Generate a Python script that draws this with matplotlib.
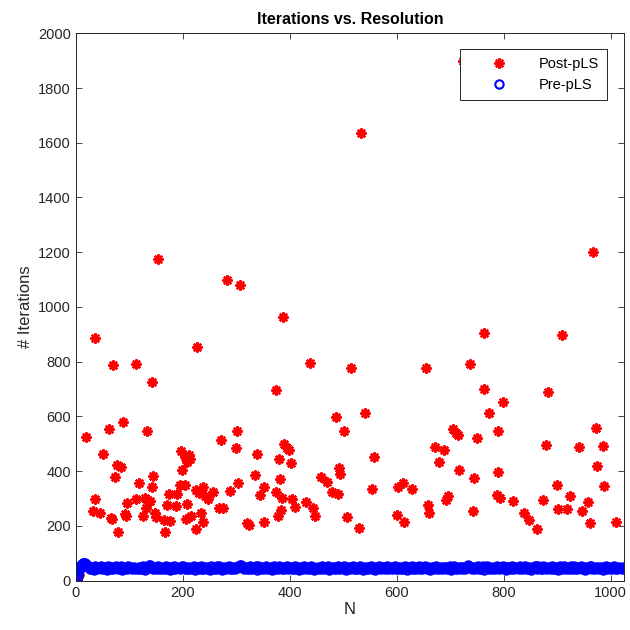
import matplotlib
matplotlib.use("Agg")
import matplotlib.pyplot as plt

plt.rcParams['font.family'] = ['Liberation Sans', 'DejaVu Sans']

# Post-pLS iterations (visible points)
post_n = [2, 4, 6, 19, 31, 36, 36, 44, 51, 62, 66, 68, 69, 73, 76, 78, 85, 88, 92, 94,
          96, 112, 113, 118, 125, 129, 131, 133, 135, 138, 142, 143, 145, 148, 150, 153,
          165, 166, 170, 174, 176, 187, 189, 195, 197, 198, 204, 204, 206, 207, 208, 212,
          214, 216, 224, 225, 227, 231, 234, 237, 237, 241, 247, 256, 268, 271, 275, 283,
          288, 299, 302, 303, 307, 319, 324, 334, 338, 345, 352, 352, 374, 375, 378, 380,
          382, 383, 385, 388, 390, 395, 399, 402, 405, 410, 431, 438, 444, 448, 458, 470,
          478, 486, 491, 492, 494, 501, 507, 514, 530, 534, 540, 553, 558, 600, 603, 612,
          614, 628, 655, 658, 660, 671, 679, 688, 693, 696, 706, 711, 715, 717, 723, 737,
          742, 744, 750, 763, 764, 772, 787, 789, 790, 793, 799, 817, 838, 848, 862, 874,
          879, 883, 899, 902, 910, 919, 924, 941, 947, 958, 961, 967, 972, 974, 986, 988,
          1010]
post_iter = [3, 12, 20, 526, 256, 298, 888, 246, 463, 554, 230, 224, 788, 378, 423, 177,
             417, 581, 244, 236, 283, 790, 297, 356, 236, 301, 264, 547, 289, 292, 727,
             344, 384, 248, 232, 1174, 222, 179, 277, 317, 219, 274, 317, 348, 475, 404,
             453, 350, 224, 279, 435, 459, 445, 236, 188, 331, 853, 320, 246, 216, 343,
             308, 297, 325, 267, 514, 265, 1100, 328, 484, 547, 358, 1080, 212, 204, 386,
             463, 313, 341, 216, 697, 325, 236, 443, 370, 258, 301, 965, 499, 484, 478,
             431, 297, 268, 289, 797, 265, 236, 380, 362, 325, 597, 318, 411, 390, 548,
             232, 776, 194, 1637, 614, 334, 453, 240, 341, 358, 213, 334, 776, 277, 246,
             490, 435, 478, 295, 309, 553, 541, 532, 404, 1900, 792, 255, 374, 522, 906,
             699, 614, 313, 548, 396, 303, 654, 291, 246, 222, 189, 295, 496, 688, 350,
             261, 898, 261, 311, 490, 255, 289, 212, 1202, 557, 419, 492, 347, 213]

# Pre-pLS iterations
pre_n = list(range(1, 17)) + list(range(18, 1025, 2))
pre_iter = [5, 12, 20, 28, 36, 42, 48, 52, 56, 58, 60, 62, 64, 66, 66, 64,
    60, 56, 52, 47, 42, 51, 44, 49, 40, 52, 46, 43, 50, 45, 53, 41, 48, 51, 43, 47, 40, 52, 46, 49,
    44, 50, 41, 47, 53, 45, 42, 49, 46, 52, 40, 48, 44, 51, 47, 42, 53, 45, 49, 41, 47, 50, 43, 48,
    46, 41, 51, 44, 49, 42, 52, 47, 40, 50, 45, 56, 58, 55, 48, 43, 51, 46, 41, 49, 53, 44, 47, 42,
    50, 45, 41, 52, 47, 43, 49, 40, 51, 46, 44, 53, 42, 48, 45, 50, 41, 47, 52, 54, 46, 42, 49, 44,
    41, 51, 46, 43, 49, 52, 40, 47, 45, 50, 42, 48, 53, 44, 41, 49, 46, 51, 43, 47, 40, 52, 45, 48,
    43, 49, 41, 52, 46, 53, 44, 48, 40, 51, 47, 42, 50, 45, 53, 41, 48, 44, 51, 46, 42, 49, 47, 54,
    58, 57, 55, 48, 43, 51, 46, 41, 50, 44, 52, 47, 42, 49, 45, 53, 40, 52, 48, 43, 50, 46, 41, 49,
    45, 52, 42, 48, 44, 51, 40, 47, 53, 43, 49, 46, 41, 52, 45, 48, 42, 50, 44, 47, 53, 41, 49, 46,
    50, 43, 48, 41, 52, 46, 44, 49, 40, 51, 47, 42, 53, 45, 48, 41, 50, 46, 43, 52, 44, 49, 40, 47,
    44, 51, 46, 42, 49, 53, 41, 47, 45, 50, 43, 52, 40, 48, 46, 51, 42, 49, 44, 47, 53, 41, 50, 45,
    48, 42, 52, 45, 40, 49, 47, 43, 51, 46, 53, 41, 48, 44, 50, 42, 47, 52, 45, 40, 49, 46, 43, 51,
    41, 49, 45, 52, 43, 47, 50, 40, 48, 44, 53, 46, 42, 51, 45, 49, 41, 47, 52, 43, 48, 45, 50, 42,
    47, 52, 43, 49, 41, 51, 46, 44, 50, 42, 48, 53, 45, 40, 49, 47, 43, 52, 46, 41, 50, 44, 48, 45,
    52, 44, 49, 41, 47, 53, 45, 42, 50, 46, 40, 48, 51, 43, 49, 45, 52, 41, 47, 44, 50, 46, 42, 51,
    45, 50, 42, 48, 44, 52, 40, 49, 46, 53, 43, 47, 41, 51, 45, 49, 42, 50, 46, 44, 48, 53, 56, 54,
    49, 43, 51, 46, 41, 50, 45, 52, 42, 48, 44, 47, 53, 40, 49, 52, 46, 43, 50, 45, 41, 48, 51, 44,
    47, 53, 45, 41, 50, 46, 52, 43, 48, 40, 51, 44, 49, 46, 42, 53, 47, 41, 50, 45, 48, 43, 52, 46,
    43, 50, 46, 52, 41, 48, 44, 51, 47, 40, 49, 45, 53, 55, 42, 54, 47, 50, 44, 41, 52, 46, 48, 43,
    50, 45, 41, 49, 53, 44, 47, 42, 51, 46, 40, 48, 52, 45, 43, 53, 49, 41, 47, 50, 44, 46, 52, 42,
    46, 52, 43, 48, 41, 50, 45, 53, 42, 49, 47, 40, 51, 44, 48, 46, 52, 53, 43, 47, 41, 50, 45, 49,
    42, 48, 51, 45, 40, 49, 46, 53, 43, 47, 50, 41, 48, 45, 52, 44, 49, 42, 47, 51, 45, 48, 43, 50]

x_ticks = [0, 200, 400, 600, 800, 1000]
y_ticks = [0, 200, 400, 600, 800, 1000, 1200, 1400, 1600, 1800, 2000]

fig = plt.figure(figsize=(6.3, 6.3), dpi=100)
ax = fig.add_axes([0.1206, 0.0783, 0.8698, 0.8689])

ax.plot(post_n, post_iter, linestyle='none', marker=(8, 2, 0), markersize=7.2,
        markeredgewidth=1.7, color='#ff0000', label='Post-pLS')
ax.plot(pre_n[:len(pre_iter)], pre_iter[:len(pre_n)], linestyle='none', marker='o',
        markersize=6, markeredgewidth=1.5, markerfacecolor='none',
        markeredgecolor='#0000ff', label='Pre-pLS')

ax.set_xlim(0, 1025)
ax.set_ylim(0, 2000)
ax.set_xticks(x_ticks)
ax.set_yticks(y_ticks)
dark = '#262626'
ax.tick_params(direction='in', length=4, width=0.6, top=True, right=True,
               labelsize=10.5, colors=dark, labelcolor=dark)
for s in ax.spines.values():
    s.set_color(dark)
    s.set_linewidth(0.7)

ax.set_title('Iterations vs. Resolution', fontsize=11.5, fontweight='bold', pad=7)
ax.set_xlabel('N', fontsize=12, color=dark, labelpad=2)
ax.set_ylabel('# Iterations', fontsize=12, color=dark, labelpad=4)

leg = ax.legend(loc='upper right', bbox_to_anchor=(606.7 / 630, 1 - 49.3 / 630),
                bbox_transform=fig.transFigure, borderaxespad=0, fontsize=10.5,
                handlelength=4.3, handletextpad=0.55, borderpad=0.55,
                labelspacing=0.45, fancybox=False, framealpha=1, numpoints=1)
leg.get_frame().set_edgecolor(dark)
leg.get_frame().set_linewidth(0.7)

fig.savefig('out.png', dpi=100)
